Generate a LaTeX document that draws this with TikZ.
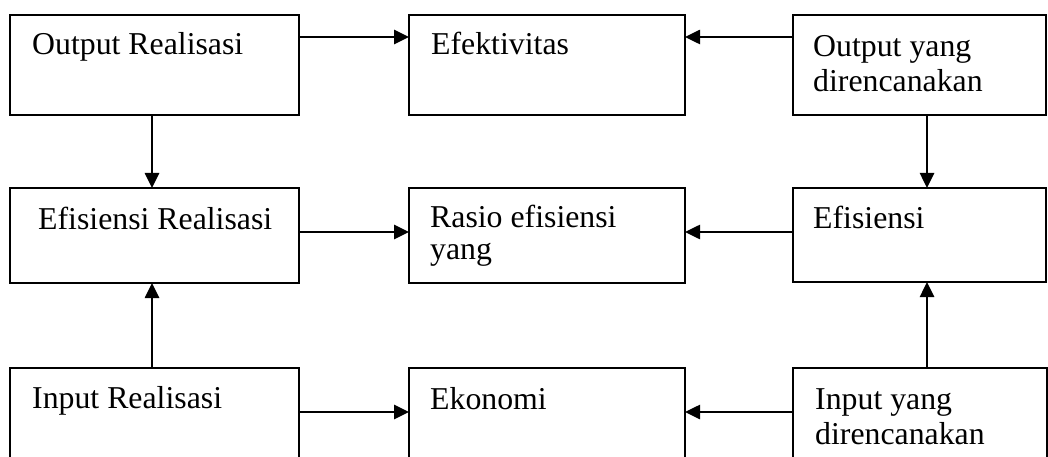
\documentclass[tikz,border=0pt]{standalone}
\usepackage{fontspec}
\setmainfont{Liberation Serif}
\usetikzlibrary{arrows.meta,calc}
\begin{document}
\begin{tikzpicture}[x=1pt,y=-1pt,
  box/.style={draw,line width=2.2pt,rectangle,inner sep=0pt,outer sep=0pt,anchor=north west},
  lbl/.style={anchor=base west,inner sep=0pt,align=left,font=\fontsize{31.8}{35}\selectfont},
  arr/.style={line width=2.6pt,-{Triangle[length=15pt,width=14pt]}}]
\useasboundingbox (0,0) rectangle (1048,457);
\clip (0,0) rectangle (1048,457);
% top row
\node[box,minimum width=289pt,minimum height=100pt] (or) at (10,15) {};
\node[box,minimum width=276pt,minimum height=100pt] (ef) at (409,15) {};
\node[box,minimum width=253pt,minimum height=100pt] (oy) at (793,15) {};
% middle row
\node[box,minimum width=289pt,minimum height=95pt] (er) at (10,188) {};
\node[box,minimum width=276pt,minimum height=95pt] (re) at (409,188) {};
\node[box,minimum width=253pt,minimum height=94pt] (es) at (793,188) {};
% bottom row
\node[box,minimum width=289pt,minimum height=120pt] (ir) at (10,368) {};
\node[box,minimum width=276pt,minimum height=120pt] (ek) at (409,368) {};
\node[box,minimum width=254pt,minimum height=120pt] (iy) at (793,368) {};
% labels
\node[lbl] (tor) at (32,55) {Output Realisasi};
\node[lbl] (tef) at (431,55) {Efektivitas};
\node[lbl] (toy) at (813,92) {Output yang\\direncanakan};
\node[lbl] (ter) at (38,229) {Efisiensi Realisasi};
\node[lbl] (tre) at (430,259) {Rasio efisiensi\\[-3pt]yang};
\node[lbl] (tes) at (813,228) {Efisiensi};
\node[lbl] (tir) at (32,408) {Input Realisasi};
\node[lbl] (tek) at (430,409) {Ekonomi};
\node[lbl] (tiy) at (815,444) {Input yang\\direncanakan};
% horizontal arrows
\draw[arr] ([yshift=-22pt]or.north east) -- ([yshift=-22pt]ef.north west);
\draw[arr] ([yshift=-22pt]oy.north west) -- ([yshift=-22pt]ef.north east);
\draw[arr] ([yshift=-44pt]er.north east) -- ([yshift=-44pt]re.north west);
\draw[arr] ([yshift=-44pt]es.north west) -- ([yshift=-44pt]re.north east);
\draw[arr] ([yshift=-44pt]ir.north east) -- ([yshift=-44pt]ek.north west);
\draw[arr] ([yshift=-44pt]iy.north west) -- ([yshift=-44pt]ek.north east);
% vertical arrows
\draw[arr] ([xshift=142pt]or.south west) -- ([xshift=142pt]er.north west);
\draw[arr] ([xshift=142pt]ir.north west) -- ([xshift=142pt]er.south west);
\draw[arr] ([xshift=134pt]oy.south west) -- ([xshift=134pt]es.north west);
\draw[arr] ([xshift=134pt]iy.north west) -- ([xshift=134pt]es.south west);
\end{tikzpicture}
\end{document}
